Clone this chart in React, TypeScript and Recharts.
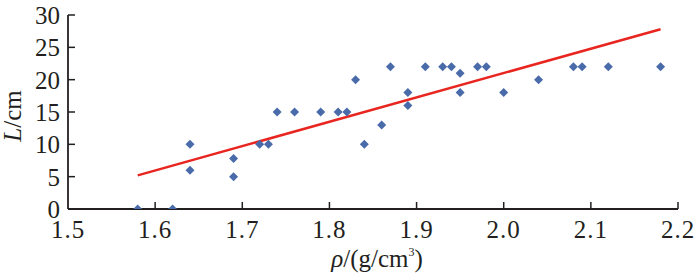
import React from 'react';
import { ScatterChart, Scatter, XAxis, YAxis, ReferenceLine, Label } from 'recharts';

// density ρ (g/cm³) and length L (cm) for each sample
const density = [
  1.58, 1.62, 1.64, 1.64, 1.69, 1.69, 1.72, 1.73, 1.74, 1.76, 1.79, 1.81, 1.82, 1.83, 1.84, 1.86,
  1.87, 1.89, 1.89, 1.91, 1.93, 1.94, 1.95, 1.95, 1.97, 1.98, 2.0, 2.04, 2.08, 2.09, 2.12, 2.18,
];
const length = [
  0, 0, 10, 6, 7.8, 5, 10, 10, 15, 15, 15, 15, 15, 20, 10, 13,
  22, 16, 18, 22, 22, 22, 21, 18, 22, 22, 18, 20, 22, 22, 22, 22,
];

// fitted trend line end points
const fitX = [1.58, 2.18];
const fitY = [5.2, 27.8];

const xTicks = [1.5, 1.6, 1.7, 1.8, 1.9, 2.0, 2.1, 2.2];
const yTicks = [0, 5, 10, 15, 20, 25, 30];

const points = density.map((x, i) => ({ x, y: length[i] }));

const FONT = '"Liberation Serif", serif';
const INK = '#231f20';

const Diamond = (props: any) => {
  const { cx, cy } = props;
  const r = 4.5;
  return (
    <polygon
      points={`${cx},${cy - r} ${cx + r},${cy} ${cx},${cy + r} ${cx - r},${cy}`}
      fill="#4a6baa"
    />
  );
};

const XTick = (props: any) => {
  const { x, y, payload } = props;
  return (
    <g>
      {payload.value > 1.5 && <line x1={x} y1={y} x2={x} y2={y - 7} stroke={INK} strokeWidth={1.5} />}
      <text x={x} y={y + 29} textAnchor="middle" style={{ fontFamily: FONT, fontSize: 25, letterSpacing: 1 }} fill={INK}>
        {Number(payload.value).toFixed(1)}
      </text>
    </g>
  );
};

const YTick = (props: any) => {
  const { x, y, payload } = props;
  return (
    <g>
      {payload.value > 0 && <line x1={x} y1={y} x2={x + 7} y2={y} stroke={INK} strokeWidth={1.5} />}
      <text x={x - 8} y={y + 9} textAnchor="end" style={{ fontFamily: FONT, fontSize: 25 }} fill={INK}>
        {payload.value}
      </text>
    </g>
  );
};

const YLabel = () => (
  <text
    x={21}
    y={116}
    textAnchor="middle"
    transform="rotate(-90, 21, 116)"
    style={{ fontFamily: FONT, fontSize: 25 }}
    fill={INK}
  >
    <tspan fontStyle="italic">L</tspan>
    <tspan>/cm</tspan>
  </text>
);

const XLabel = () => (
  <text x={377} y={267} textAnchor="middle" style={{ fontFamily: FONT, fontSize: 25 }} fill={INK}>
    <tspan fontStyle="italic">ρ</tspan>
    <tspan>/(g/cm</tspan>
    <tspan fontSize={12} dy={-11}>3</tspan>
    <tspan dy={11}>)</tspan>
  </text>
);

export default function App() {
  return (
    <div style={{ position: 'absolute', left: 0, top: 0, background: '#fff' }}>
      <ScatterChart width={700} height={280} margin={{ top: 15, right: 22, bottom: 0, left: 0 }}>
        <XAxis
          type="number"
          dataKey="x"
          domain={[1.5, 2.2]}
          ticks={xTicks}
          allowDataOverflow
          height={71}
          tickSize={0}
          tickMargin={0}
          tickLine={false}
          tick={<XTick />}
          axisLine={{ stroke: INK, strokeWidth: 1.8 }}
          interval={0}
        >
          <Label content={<XLabel />} />
        </XAxis>
        <YAxis
          type="number"
          dataKey="y"
          domain={[0, 30]}
          ticks={yTicks}
          allowDataOverflow
          width={68}
          tickSize={0}
          tickMargin={0}
          tickLine={false}
          tick={<YTick />}
          axisLine={{ stroke: INK, strokeWidth: 1.8 }}
          interval={0}
        >
          <Label content={<YLabel />} />
        </YAxis>
        <ReferenceLine
          segment={[
            { x: fitX[0], y: fitY[0] },
            { x: fitX[1], y: fitY[1] },
          ]}
          stroke="#e8251f"
          strokeWidth={2.5}
        />
        <Scatter data={points} shape={<Diamond />} isAnimationActive={false} />
      </ScatterChart>
    </div>
  );
}
